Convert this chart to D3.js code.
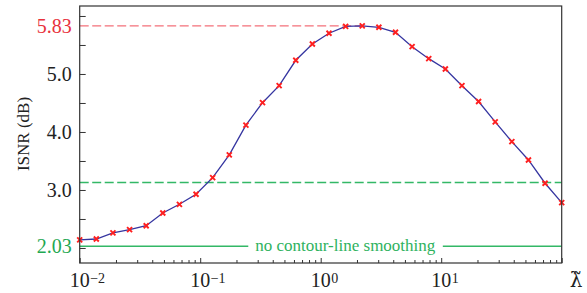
<!DOCTYPE html>
<html>
<head>
<meta charset="utf-8">
<script src="https://cdn.jsdelivr.net/npm/d3@7"></script>
<style>
  body { margin: 0; background: #fff; }
  text { font-family: "Liberation Serif", "DejaVu Serif", serif; }
  text.lam { font-family: "DejaVu Serif", serif; }
</style>
</head>
<body>
<div id="chart"></div>
<script>
// regularisation weights (log-spaced) and ISNR
var lambdas = [0.01, 0.01374, 0.01887, 0.02593, 0.03562, 0.04894, 0.06723, 0.09237,
               0.1269, 0.1743, 0.2395, 0.3290, 0.4520, 0.6210, 0.8532, 1.172,
               1.610, 2.212, 3.039, 4.175, 5.736, 7.881, 10.83, 14.87,
               20.43, 28.07, 38.57, 52.98, 72.79, 100];
var isnr = [2.14, 2.155, 2.26, 2.316, 2.384, 2.603, 2.753, 2.926,
            3.212, 3.606, 4.118, 4.505, 4.798, 5.236, 5.517, 5.702,
            5.822, 5.83, 5.805, 5.719, 5.471, 5.264, 5.086, 4.798,
            4.525, 4.175, 3.833, 3.517, 3.116, 2.781];

var best = 5.83;          // red dashed reference
var noSmooth = 2.03;      // green solid reference
var greenDash = 3.13;     // green dashed reference

var yMajor = [3.0, 4.0, 5.0];
var yTicks = [2.0, 2.5, 3.0, 3.5, 4.0, 4.5, 5.0, 5.5, 6.0];
var xMajor = [0.01, 0.1, 1, 10, 100];
var xLabels = [{v: 0.01, e: "\u22122"}, {v: 0.1, e: "\u22121"}, {v: 1, e: "0"}, {v: 10, e: "1"}];

var W = 587, H = 293;
var margin = {top: 6, right: 25.3, bottom: 30, left: 79.7};
var width = W - margin.left - margin.right;
var height = H - margin.top - margin.bottom;

var svg = d3.select("#chart").append("svg")
    .attr("width", W).attr("height", H);

var g = svg.append("g")
    .attr("transform", "translate(" + margin.left + "," + margin.top + ")");

var x = d3.scaleLog().domain([0.01, 100]).range([0, width]);
var y = d3.scaleLinear().domain([1.741, 6.172]).range([height, 0]);

// minor x ticks
var xMinor = [];
[0.01, 0.1, 1, 10].forEach(function(d) {
  for (var k = 2; k <= 9; k++) xMinor.push(d * k);
});

var axisColor = "#333";

g.append("g")
  .attr("transform", "translate(0," + height + ")")
  .call(d3.axisBottom(x).tickValues(xMinor).tickSize(-3).tickFormat("").tickSizeOuter(0))
  .call(function(s) { s.select(".domain").remove(); s.selectAll("line").attr("stroke", axisColor); });

g.append("g")
  .attr("transform", "translate(0," + height + ")")
  .call(d3.axisBottom(x).tickValues(xMajor).tickSize(-5).tickFormat("").tickSizeOuter(0))
  .call(function(s) { s.select(".domain").remove(); s.selectAll("line").attr("stroke", axisColor); });

g.append("g")
  .call(d3.axisLeft(y).tickValues(yTicks).tickSize(-6).tickFormat("").tickSizeOuter(0))
  .call(function(s) { s.select(".domain").remove(); s.selectAll("line").attr("stroke", axisColor); });

// reference lines
g.append("line")
  .attr("x1", 0).attr("x2", x(lambdas[isnr.indexOf(d3.max(isnr))]))
  .attr("y1", y(best)).attr("y2", y(best))
  .attr("stroke", "#f4707a").attr("stroke-width", 1.4)
  .attr("stroke-dasharray", "9,3.5");

g.append("line")
  .attr("x1", 0).attr("x2", width)
  .attr("y1", y(greenDash)).attr("y2", y(greenDash))
  .attr("stroke", "#33b866").attr("stroke-width", 1.4)
  .attr("stroke-dasharray", "9,3.5");

g.append("line")
  .attr("x1", 0).attr("x2", width)
  .attr("y1", y(noSmooth)).attr("y2", y(noSmooth))
  .attr("stroke", "#33b866").attr("stroke-width", 1.3);

var lbl = g.append("text")
  .attr("x", x(1.6)).attr("y", y(noSmooth) + 4.8)
  .attr("text-anchor", "middle")
  .attr("font-size", 17)
  .attr("fill", "#2eb25e")
  .text("no contour-line smoothing");
var bb = lbl.node().getBBox();
g.insert("rect", function() { return lbl.node(); })
  .attr("x", bb.x - 7).attr("y", y(noSmooth) - 2)
  .attr("width", bb.width + 14).attr("height", 4)
  .attr("fill", "#fff");

// curve
var line = d3.line()
  .x(function(d, i) { return x(lambdas[i]); })
  .y(function(d) { return y(d); });

g.append("path")
  .datum(isnr)
  .attr("d", line)
  .attr("fill", "none")
  .attr("stroke", "#3535a0")
  .attr("stroke-width", 1.3);

g.selectAll(".pt")
  .data(isnr)
  .enter()
  .append("path")
  .attr("class", "pt")
  .attr("transform", function(d, i) { return "translate(" + x(lambdas[i]) + "," + y(d) + ")"; })
  .attr("d", d3.symbol(d3.symbolX).size(18))
  .attr("fill", "none")
  .attr("stroke", "#ff1f1f")
  .attr("stroke-width", 1.9);

// frame
g.append("rect")
  .attr("width", width).attr("height", height)
  .attr("fill", "none")
  .attr("stroke", axisColor)
  .attr("stroke-width", 1.2);

// y labels
g.selectAll(".ylab")
  .data(yMajor)
  .enter()
  .append("text")
  .attr("x", -8).attr("y", function(d) { return y(d); })
  .attr("dy", "0.35em")
  .attr("text-anchor", "end")
  .attr("font-size", 20)
  .attr("fill", "#222")
  .text(function(d) { return d.toFixed(1); });

g.append("text")
  .attr("x", -8).attr("y", y(best)).attr("dy", "0.35em")
  .attr("text-anchor", "end").attr("font-size", 20)
  .attr("fill", "#e8323c").text(best.toFixed(2));

g.append("text")
  .attr("x", -8).attr("y", y(noSmooth)).attr("dy", "0.35em")
  .attr("text-anchor", "end").attr("font-size", 20)
  .attr("fill", "#1fa852").text(noSmooth.toFixed(2));

// x labels: "10" centred on the tick, exponent trailing
var xl = g.selectAll(".xlab")
  .data(xLabels)
  .enter()
  .append("g")
  .attr("transform", function(d) { return "translate(" + x(d.v) + "," + (height + 24) + ")"; });
xl.append("text")
  .attr("text-anchor", "middle")
  .attr("font-size", 20)
  .attr("fill", "#222")
  .text("10");
xl.append("text")
  .attr("x", 10.5).attr("y", -4.5)
  .attr("font-size", 14)
  .attr("fill", "#222")
  .text(function(d) { return d.e; });

// axis titles
svg.append("text")
  .attr("transform", "translate(" + 29 + "," + (margin.top + y(4.0) + 2) + ") rotate(-90)")
  .attr("text-anchor", "middle")
  .attr("font-size", 17)
  .attr("fill", "#222")
  .text("ISNR (dB)");

// lambda with combining tilde
svg.append("text")
  .attr("class", "lam")
  .attr("x", 576).attr("y", 287)
  .attr("text-anchor", "middle")
  .attr("font-size", 20)
  .attr("fill", "#222")
  .text("\u03bb\u0303");
</script>
</body>
</html>
